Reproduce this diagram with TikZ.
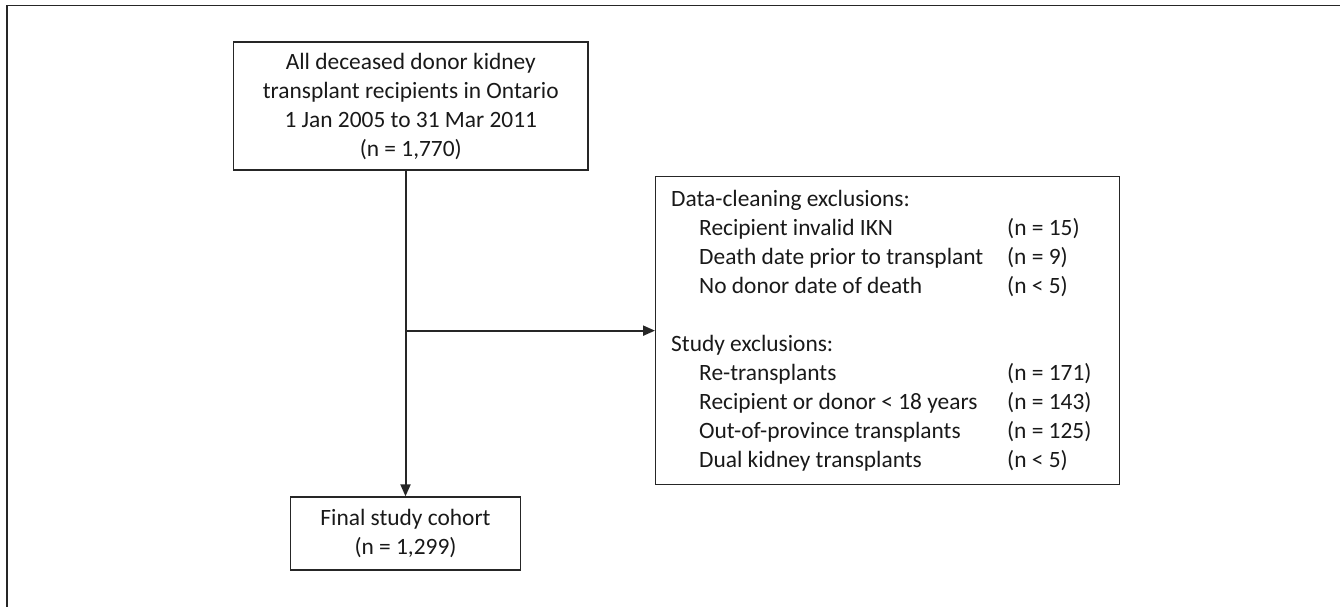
\documentclass[tikz,border=0pt]{standalone}
\usepackage{fontspec}
\setmainfont{Carlito}
\usetikzlibrary{arrows.meta}
\begin{document}
\begin{tikzpicture}[x=1pt,y=-1pt,
  boxnode/.style={draw=black!85, line width=1.3pt, inner sep=0pt},
  conn/.style={draw=black!85, line width=2pt},
  arr/.style={conn, -{Triangle[length=12pt,width=10pt]}},
  txt/.style={font=\fontsize{23.4}{29}\selectfont, text=black!90}]
\useasboundingbox (0,0) rectangle (1340,607);
% partial frame (top and left edges)
\draw[black!85, line width=1.5pt] (1340,5.5) -- (7,5.5) -- (7,607);
% top box
\node[boxnode, minimum width=354.5pt, minimum height=128pt, txt, align=center] (top) at (410.8,106)
  {All deceased donor kidney\\transplant recipients in Ontario\\1 Jan 2005 to 31 Mar 2011\\(n = 1,770)};
% final box
\node[boxnode, minimum width=230pt, minimum height=73pt, txt, align=center] (fin) at (405.5,533.5)
  {Final study cohort\\(n = 1,299)};
% exclusions box
\node[boxnode, anchor=north west, minimum width=464pt, minimum height=308pt] (excl) at (655,176) {};
\node[txt, anchor=north west, inner sep=0pt] (excltxt) at (671,185.7) {%
\begin{tabular}{@{}p{28pt}@{}p{308pt}@{}l@{}}
\multicolumn{3}{@{}l}{Data-cleaning exclusions:}\\
& Recipient invalid IKN & (n = 15)\\
& Death date prior to transplant & (n = 9)\\
& No donor date of death & (n < 5)\\
\multicolumn{3}{@{}l}{}\\
\multicolumn{3}{@{}l}{Study exclusions:}\\
& Re-transplants & (n = 171)\\
& Recipient or donor < 18 years & (n = 143)\\
& Out-of-province transplants & (n = 125)\\
& Dual kidney transplants & (n < 5)\\
\end{tabular}};
% connectors
\coordinate (j) at (fin.north |- excl.west);
\draw[arr] (top.south -| fin.north) -- (fin.north);
\draw[arr] (j) -- (excl.west);
\end{tikzpicture}
\end{document}
